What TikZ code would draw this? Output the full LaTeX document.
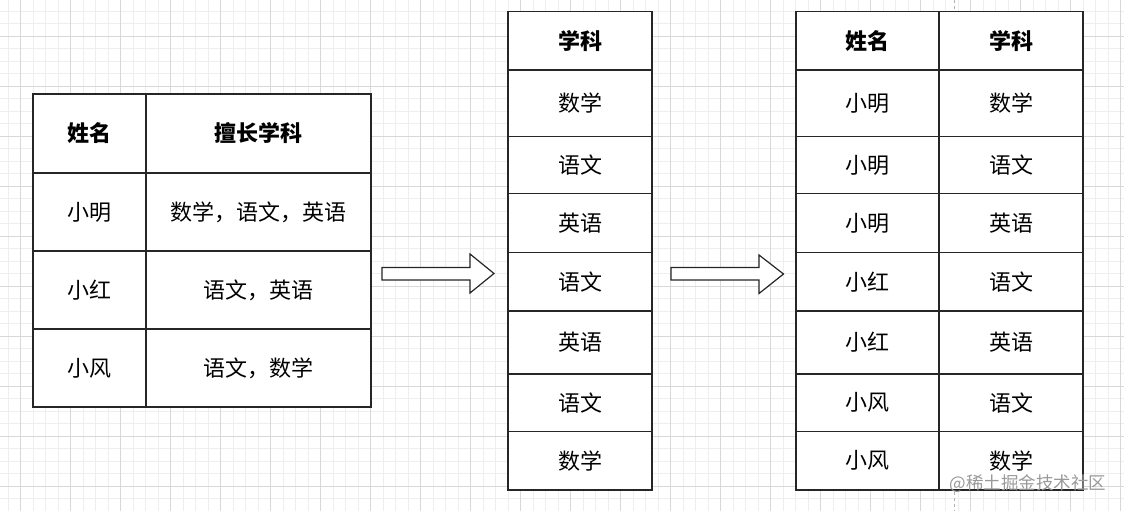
\documentclass[tikz,border=0pt]{standalone}
\usepackage{fontspec}
\newfontfamily\cjk{Noto Sans CJK SC}
\definecolor{gminor}{HTML}{EEEEEE}
\definecolor{gmajor}{HTML}{D8D8D8}
\begin{document}
\begin{tikzpicture}[x=1pt,y=-1pt,
  minorline/.style={draw=gminor,line width=0.8pt},
  majorline/.style={draw=gmajor,line width=0.9pt},
  cell/.style={draw=black!85,line width=1.2pt,fill=white,inner sep=0pt,
    font=\cjk\fontsize{22}{24}\selectfont},
  head/.style={cell,font=\cjk\bfseries\fontsize{22}{24}\selectfont},
  blockarrow/.style={draw=black!85,line width=1.2pt,fill=white,line join=miter},
  watermark/.style={text=black!40,font=\cjk\fontsize{17.5}{19}\selectfont,inner sep=0pt}]
\useasboundingbox (0,0) rectangle (1124,511);
\fill[white] (0,0) rectangle (1124,511);
% grid
\foreach \i in {0,...,89} \draw[minorline] ({8.2+12.5*\i},0) -- ({8.2+12.5*\i},511);
\foreach \i in {0,...,41} \draw[minorline] (0,{-1.5+12.5*\i}) -- (1124,{-1.5+12.5*\i});
\foreach \i in {0,...,22} \draw[majorline] ({20.7+50*\i},0) -- ({20.7+50*\i},511);
\foreach \i in {0,...,9} \draw[majorline] (0,{36+50*\i}) -- (1124,{36+50*\i});
\draw[draw=black!30,dashed,line width=0.8pt] (954.5,0) -- (954.5,511);
% table 1
\node[head,minimum width=113pt,minimum height=79pt] (t1h1) at (89.5,133.5) {姓名};
\node[head,minimum width=225pt,minimum height=79pt] (t1h2) at (258.5,133.5) {擅长学科};
\node[cell,minimum width=113pt,minimum height=78pt] (t1a1) at (89.5,212) {小明};
\node[cell,minimum width=225pt,minimum height=78pt] (t1b1) at (258.5,212) {数学，语文，英语};
\node[cell,minimum width=113pt,minimum height=78pt] (t1a2) at (89.5,290) {小红};
\node[cell,minimum width=225pt,minimum height=78pt] (t1b2) at (258.5,290) {语文，英语};
\node[cell,minimum width=113pt,minimum height=78pt] (t1a3) at (89.5,368) {小风};
\node[cell,minimum width=225pt,minimum height=78pt] (t1b3) at (258.5,368) {语文，数学};
% table 2
\node[head,minimum width=144pt,minimum height=58.7pt] (t2h) at (580,40.65) {学科};
\foreach \n/\c/\h/\s in {1/103.15/66.3/数学, 2/165/57.4/语文, 3/223.2/59/英语, 4/281.85/58.3/语文, 5/342.5/63/英语, 6/402.65/57.3/语文, 7/460.65/58.7/数学}
  \node[cell,minimum width=144pt,minimum height=\h pt] (t2r\n) at (580,\c) {\s};
% table 3
\node[head,minimum width=143pt,minimum height=58.7pt] (t3h1) at (867.5,40.65) {姓名};
\node[head,minimum width=144pt,minimum height=58.7pt] (t3h2) at (1011,40.65) {学科};
\foreach \n/\c/\h/\p/\s in {1/103.15/66.3/小明/数学, 2/165/57.4/小明/语文, 3/223.2/59/小明/英语, 4/281.85/58.3/小红/语文, 5/342.5/63/小红/英语, 6/402.65/57.3/小风/语文, 7/460.65/58.7/小风/数学}
{
  \node[cell,minimum width=143pt,minimum height=\h pt] (t3a\n) at (867.5,\c) {\p};
  \node[cell,minimum width=144pt,minimum height=\h pt] (t3b\n) at (1011,\c) {\s};
}
% block arrows
\draw[blockarrow] (382,267.5) -- (470,267.5) -- (470,254) -- (494,273.5) -- (470,293) -- (470,280) -- (382,280) -- cycle;
\draw[blockarrow] (671,267.5) -- (759,267.5) -- (759,255) -- (783.5,274) -- (759,293.5) -- (759,280) -- (671,280) -- cycle;
% watermark
\node[watermark] (wm) at (1028,484) {@稀土掘金技术社区};
\end{tikzpicture}
\end{document}
